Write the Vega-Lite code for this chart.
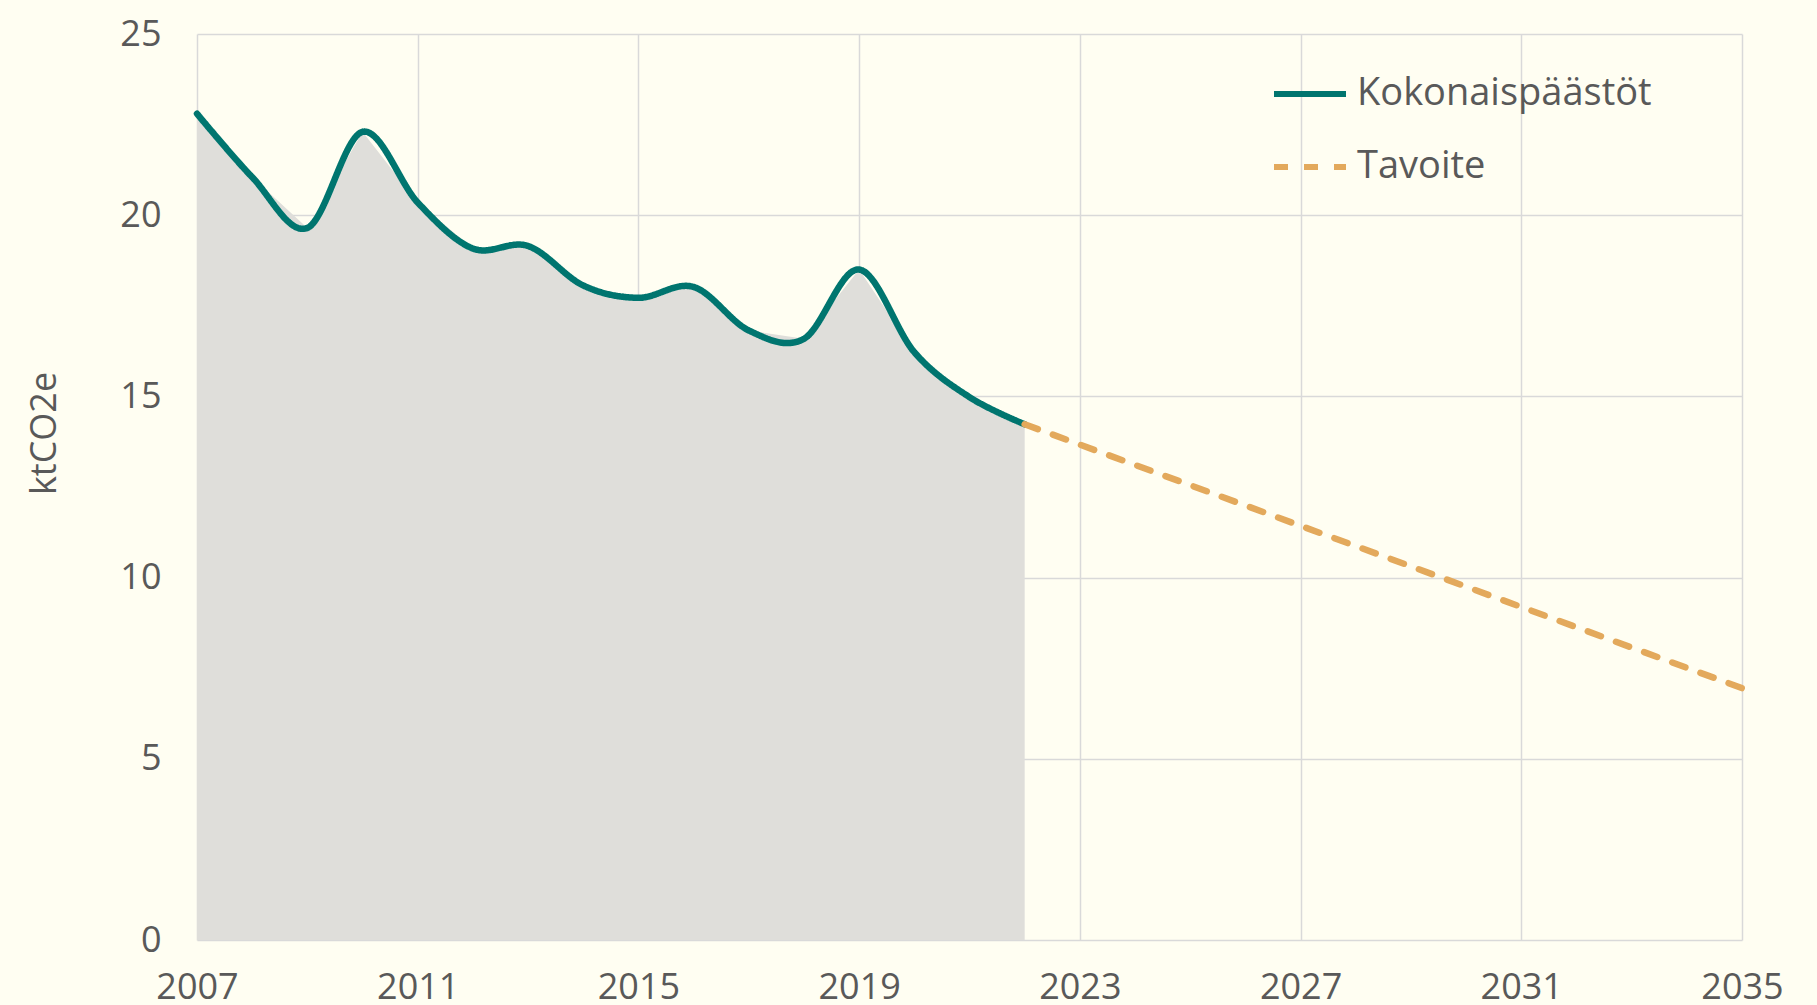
{
  "$schema": "https://vega.github.io/schema/vega-lite/v6.json",
  "width": 1545,
  "height": 906,
  "autosize": {"type": "none"},
  "padding": {"left": 197, "top": 34, "right": 75, "bottom": 65},
  "background": "#FFFEF2",
  "config": {
    "view": {"stroke": null},
    "font": "Open Sans",
    "axis": {
      "gridColor": "#D9D9D9",
      "gridWidth": 1.5,
      "domain": false,
      "ticks": false,
      "labelColor": "#595959",
      "labelFontSize": 36,
      "titleColor": "#595959",
      "titleFontSize": 36,
      "titleFontWeight": "normal"
    }
  },
  "data": {
    "values": [
      {"year": 2007, "value": 22.8, "series": "Kokonaispäästöt"},
      {"year": 2008, "value": 21.05, "series": "Kokonaispäästöt"},
      {"year": 2009, "value": 19.65, "series": "Kokonaispäästöt"},
      {"year": 2010, "value": 22.3, "series": "Kokonaispäästöt"},
      {"year": 2011, "value": 20.35, "series": "Kokonaispäästöt"},
      {"year": 2012, "value": 19.08, "series": "Kokonaispäästöt"},
      {"year": 2013, "value": 19.15, "series": "Kokonaispäästöt"},
      {"year": 2014, "value": 18.06, "series": "Kokonaispäästöt"},
      {"year": 2015, "value": 17.72, "series": "Kokonaispäästöt"},
      {"year": 2016, "value": 18.02, "series": "Kokonaispäästöt"},
      {"year": 2017, "value": 16.82, "series": "Kokonaispäästöt"},
      {"year": 2018, "value": 16.59, "series": "Kokonaispäästöt"},
      {"year": 2019, "value": 18.5, "series": "Kokonaispäästöt"},
      {"year": 2020, "value": 16.22, "series": "Kokonaispäästöt"},
      {"year": 2021, "value": 14.98, "series": "Kokonaispäästöt"},
      {"year": 2022, "value": 14.23, "series": "Kokonaispäästöt"},
      {"year": 2022, "value": 14.23, "series": "Tavoite"},
      {"year": 2035, "value": 6.95, "series": "Tavoite"}
    ]
  },
  "layer": [
    {
      "transform": [{"filter": "datum.series === 'Kokonaispäästöt'"}],
      "mark": {"type": "area", "color": "#DFDEDA", "interpolate": "linear"},
      "encoding": {
        "x": {
          "field": "year",
          "type": "quantitative",
          "scale": {"domain": [2007, 2035], "nice": false, "zero": false},
          "axis": {
            "values": [2007, 2011, 2015, 2019, 2023, 2027, 2031, 2035],
            "format": "d",
            "title": null,
            "grid": true,
            "labelPadding": 30,
            "labelFlush": false
          }
        },
        "y": {
          "field": "value",
          "type": "quantitative",
          "scale": {"domain": [0, 25], "nice": false},
          "axis": {
            "values": [0, 5, 10, 15, 20, 25],
            "title": "ktCO2e",
            "grid": true,
            "labelPadding": 36,
            "titleX": -153,
            "titleY": 399,
            "titleAngle": -90,
            "titleAlign": "center",
            "titleBaseline": "middle"
          }
        }
      }
    },
    {
      "mark": {"type": "line", "strokeWidth": 6.5, "interpolate": "cardinal", "strokeCap": "round"},
      "encoding": {
        "x": {"field": "year", "type": "quantitative"},
        "y": {"field": "value", "type": "quantitative"},
        "detail": {"field": "series"},
        "color": {
          "field": "series",
          "type": "nominal",
          "scale": {"domain": ["Kokonaispäästöt", "Tavoite"], "range": ["#00756F", "#E3A95C"]},
          "legend": {
            "title": null,
            "orient": "none",
            "legendX": 1074,
            "legendY": 21,
            "symbolType": "stroke",
            "symbolSize": 5184,
            "symbolStrokeWidth": 6,
            "labelFontSize": 38,
            "labelColor": "#595959",
            "labelOffset": 8,
            "rowPadding": 15,
            "labelLimit": 500
          }
        },
        "strokeDash": {
          "field": "series",
          "type": "nominal",
          "scale": {"domain": ["Kokonaispäästöt", "Tavoite"], "range": [[1, 0], [14, 16]]},
          "legend": {
            "title": null,
            "orient": "none",
            "legendX": 1074,
            "legendY": 21,
            "symbolType": "stroke",
            "symbolSize": 5184,
            "symbolStrokeWidth": 6,
            "labelFontSize": 38,
            "labelColor": "#595959",
            "labelOffset": 8,
            "rowPadding": 15,
            "labelLimit": 500
          }
        }
      }
    }
  ]
}
